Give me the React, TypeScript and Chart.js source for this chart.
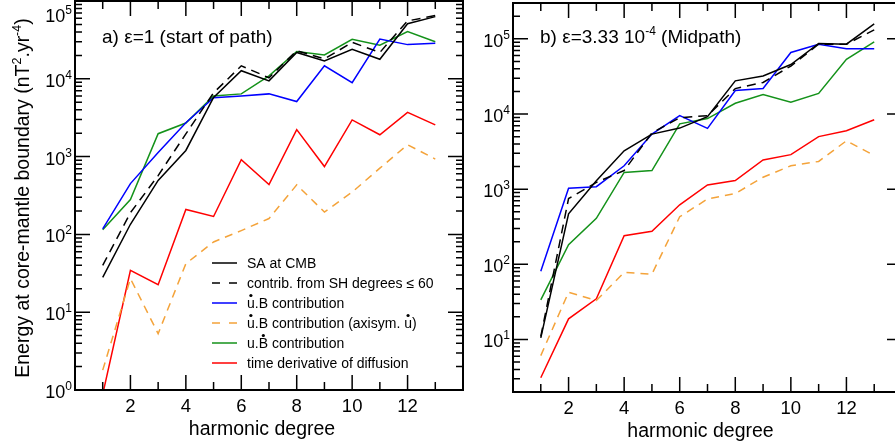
import React, { useEffect, useRef } from "react";
import { Chart, registerables } from "chart.js";

Chart.register(...registerables);

// ---------- data ----------
const degrees = [1, 2, 3, 4, 5, 6, 7, 8, 9, 10, 11, 12, 13];
const xTickLabels = [2, 4, 6, 8, 10, 12];

// panel a) epsilon = 1 (start of path)
const aSA = [28, 135, 494, 1200, 5760, 12700, 9400, 21800, 17000, 24000, 17800, 51000, 63000];
const aSH60 = [40, 190, 570, 1960, 6600, 14700, 10300, 23000, 18000, 29400, 21800, 55500, 65000];
const aUdotB = [118, 450, 1130, 2720, 5700, 6000, 6400, 5100, 14700, 8900, 32500, 27500, 28700];
const aUdotBAxi = [1.8, 27, 5.3, 42, 80, 112, 160, 433, 194, 350, 710, 1420, 930];
const aUBdot = [115, 280, 1970, 2700, 6000, 6400, 10900, 22400, 20300, 32200, 27000, 40500, 30000];
const aDiff = [0.88, 34.6, 22.6, 209, 170, 910, 437, 2220, 745, 2960, 1910, 3700, 2560];

// panel b) epsilon = 3.33e-4 (Midpath)
const bSA = [10.5, 470, 1290, 3240, 5400, 6500, 9200, 27600, 32000, 45600, 87000, 85000, 158000];
const bSH60 = [11, 750, 1230, 1770, 5600, 8950, 9500, 21800, 26300, 43500, 85000, 85000, 132000];
const bUdotB = [81, 1030, 1080, 2050, 5400, 9500, 6450, 20500, 21800, 66000, 85000, 74000, 74000];
const bUdotBAxi = [6.1, 42.5, 33, 78, 74, 430, 740, 875, 1440, 2050, 2340, 4400, 2800];
const bUBdot = [33.7, 183, 410, 1670, 1770, 7400, 8700, 13900, 18200, 14400, 18800, 53500, 91000];
const bDiff = [3.1, 18.8, 34.7, 240, 275, 620, 1140, 1300, 2450, 2880, 5000, 6000, 8400];

const legendTexts = [
  "SA at CMB",
  "contrib. from SH degrees \u2264 60",
  "u.B contribution",
  "u.B contribution (axisym. u)",
  "u.B contribution",
  "time derivative of diffusion",
];
// character indices that carry a "dot" (time derivative) accent
const legendDots = [[], [], [0], [0, 26], [2], []];

const xAxisTitle = "harmonic degree";
const yAxisTitle = [
  { t: "Energy at core-mantle boundary (nT" },
  { t: "2", sup: true },
  { t: ".yr" },
  { t: "-4", sup: true },
  { t: ")" },
];
const panelATitle = [{ t: "a) \u03b5=1 (start of path)" }];
const panelBTitle = [
  { t: "b) \u03b5=3.33 10" },
  { t: "-4", sup: true },
  { t: " (Midpath)" },
];

// ---------- styles ----------
const seriesStyles = [
  { color: "#000000", dash: [] as number[] },
  { color: "#000000", dash: [9, 6] },
  { color: "#0000ff", dash: [] as number[] },
  { color: "#f4a33a", dash: [8, 6] },
  { color: "#14921a", dash: [] as number[] },
  { color: "#ff0000", dash: [] as number[] },
];

const FONT = '"Liberation Sans", Arial, Helvetica, sans-serif';

type Part = { t: string; sup?: boolean };

function richWidth(ctx: CanvasRenderingContext2D, parts: Part[], size: number, supSize: number) {
  let w = 0;
  for (const p of parts) {
    ctx.font = `${p.sup ? supSize : size}px ${FONT}`;
    w += ctx.measureText(p.t).width;
  }
  return w;
}

function drawRich(
  ctx: CanvasRenderingContext2D,
  parts: Part[],
  x: number,
  y: number,
  size: number,
  supSize: number,
  align: "left" | "right" | "center",
  supRaise: number
) {
  const w = richWidth(ctx, parts, size, supSize);
  let cx = align === "left" ? x : align === "right" ? x - w : x - w / 2;
  ctx.textAlign = "left";
  ctx.textBaseline = "alphabetic";
  for (const p of parts) {
    ctx.font = `${p.sup ? supSize : size}px ${FONT}`;
    ctx.fillText(p.t, cx, p.sup ? y - supRaise : y);
    cx += ctx.measureText(p.t).width;
  }
}

type PanelCfg = {
  ymin: number;
  ymax: number;
  padding: { left: number; right: number; top: number; bottom: number };
  series: number[][];
  extra: (ctx: CanvasRenderingContext2D, chart: any) => void;
};

function axesPlugin(cfg: PanelCfg) {
  return {
    id: "idlAxes",
    afterDraw(chart: any) {
      const ctx: CanvasRenderingContext2D = chart.ctx;
      const { left, right, top, bottom } = chart.chartArea;
      const xs = chart.scales.x;
      const ys = chart.scales.y;
      ctx.save();
      ctx.strokeStyle = "#000";
      ctx.fillStyle = "#000";
      // frame
      ctx.lineWidth = 2;
      ctx.strokeRect(left, top, right - left, bottom - top);
      // x ticks (inward, bottom and top)
      ctx.lineWidth = 1.5;
      ctx.beginPath();
      for (const n of degrees) {
        const px = xs.getPixelForValue(n);
        const len = n % 2 === 0 ? 15 : 8;
        ctx.moveTo(px, bottom);
        ctx.lineTo(px, bottom - len);
        ctx.moveTo(px, top);
        ctx.lineTo(px, top + len);
      }
      // y ticks (log, inward, left and right)
      const kmin = Math.floor(Math.log10(cfg.ymin));
      const kmax = Math.ceil(Math.log10(cfg.ymax));
      for (let k = kmin; k <= kmax; k++) {
        for (let m = 1; m <= 9; m++) {
          const v = m * Math.pow(10, k);
          if (v < cfg.ymin * 0.999 || v > cfg.ymax * 1.001) continue;
          const py = ys.getPixelForValue(v);
          const len = m === 1 ? 15 : 7;
          ctx.moveTo(left, py);
          ctx.lineTo(left + len, py);
          ctx.moveTo(right, py);
          ctx.lineTo(right - len, py);
        }
      }
      ctx.stroke();
      // x tick labels
      ctx.font = `18.5px ${FONT}`;
      ctx.textAlign = "center";
      ctx.textBaseline = "alphabetic";
      for (const n of xTickLabels) {
        ctx.fillText(String(n), xs.getPixelForValue(n), bottom + 22);
      }
      // y tick labels
      for (let k = kmin; k <= kmax; k++) {
        const v = Math.pow(10, k);
        if (v < cfg.ymin * 0.999 || v > cfg.ymax * 1.001) continue;
        const py = ys.getPixelForValue(v);
        const base = Math.max(py + 8, top + 21);
        drawRich(ctx, [{ t: "10" }, { t: String(k), sup: true }], left - 3, base, 18, 12, "right", 8);
      }
      // x axis title
      ctx.font = `19.5px ${FONT}`;
      ctx.textAlign = "center";
      ctx.fillText(xAxisTitle, (left + right) / 2 - 7, bottom + 45);
      cfg.extra(ctx, chart);
      ctx.restore();
    },
  };
}

function makeChart(canvas: HTMLCanvasElement, cfg: PanelCfg) {
  const datasets = cfg.series.map((vals, i) => ({
    label: legendTexts[i],
    data: degrees.map((d, j) => ({ x: d, y: vals[j] })),
    borderColor: seriesStyles[i].color,
    backgroundColor: seriesStyles[i].color,
    borderDash: seriesStyles[i].dash,
    borderWidth: 1.5,
    pointRadius: 0,
    tension: 0,
    fill: false,
  }));
  return new Chart(canvas, {
    type: "line",
    data: { datasets },
    options: {
      animation: false,
      responsive: false,
      maintainAspectRatio: false,
      events: [],
      layout: { padding: cfg.padding },
      plugins: {
        legend: { display: false },
        tooltip: { enabled: false },
        title: { display: false },
      },
      scales: {
        x: { type: "linear", min: 0, max: 14, display: false },
        y: { type: "logarithmic", min: cfg.ymin, max: cfg.ymax, display: false },
      },
    },
    plugins: [axesPlugin(cfg)],
  } as any);
}

function drawLegend(ctx: CanvasRenderingContext2D) {
  const x0 = 212;
  const x1 = 237;
  const tx = 247;
  legendTexts.forEach((text, i) => {
    const y = 263 + i * 20;
    ctx.save();
    ctx.strokeStyle = seriesStyles[i].color;
    ctx.lineWidth = 1.5;
    ctx.setLineDash(seriesStyles[i].dash.length ? [8, 9] : []);
    ctx.beginPath();
    ctx.moveTo(x0, y);
    ctx.lineTo(x1, y);
    ctx.stroke();
    ctx.restore();
    ctx.font = `14px ${FONT}`;
    ctx.textAlign = "left";
    ctx.textBaseline = "alphabetic";
    ctx.fillStyle = "#000";
    ctx.fillText(text, tx, y + 5);
    for (const ci of legendDots[i]) {
      const pre = ctx.measureText(text.slice(0, ci)).width;
      const cw = ctx.measureText(text[ci]).width;
      ctx.beginPath();
      ctx.arc(tx + pre + cw / 2, y + 5 - 12.5, 1.6, 0, Math.PI * 2);
      ctx.fill();
    }
  });
}

const cfgA: PanelCfg = {
  ymin: 1,
  ymax: 1e5,
  padding: { left: 75, right: 7, top: 1, bottom: 54 },
  series: [aSA, aSH60, aUdotB, aUdotBAxi, aUBdot, aDiff],
  extra: (ctx, chart) => {
    const { left, top } = chart.chartArea;
    drawRich(ctx, panelATitle, left + 27, top + 42, 19, 12, "left", 8);
    // y axis title
    ctx.save();
    ctx.translate(29, 198);
    ctx.rotate(-Math.PI / 2);
    drawRich(ctx, yAxisTitle, 0, 0, 19.5, 12.5, "center", 8);
    ctx.restore();
    drawLegend(ctx);
  },
};

const cfgB: PanelCfg = {
  ymin: 2,
  ymax: 3e5,
  padding: { left: 43, right: 8, top: 3, bottom: 52 },
  series: [bSA, bSH60, bUdotB, bUdotBAxi, bUBdot, bDiff],
  extra: (ctx, chart) => {
    const { left } = chart.chartArea;
    drawRich(ctx, panelBTitle, left + 27, 43, 19, 12, "left", 8);
  },
};

export default function App() {
  const refA = useRef<HTMLCanvasElement>(null);
  const refB = useRef<HTMLCanvasElement>(null);
  useEffect(() => {
    const ca = makeChart(refA.current!, cfgA);
    const cb = makeChart(refB.current!, cfgB);
    return () => {
      ca.destroy();
      cb.destroy();
    };
  }, []);
  return (
    <div
      style={{
        position: "fixed",
        left: 0,
        top: 0,
        width: 895,
        height: 444,
        overflow: "hidden",
        background: "#fff",
      }}
    >
      <canvas
        ref={refA}
        width={470}
        height={444}
        style={{ position: "absolute", left: 0, top: 0, width: 470, height: 444, display: "block" }}
      />
      <canvas
        ref={refB}
        width={440}
        height={444}
        style={{ position: "absolute", left: 470, top: 0, width: 440, height: 444, display: "block" }}
      />
    </div>
  );
}
